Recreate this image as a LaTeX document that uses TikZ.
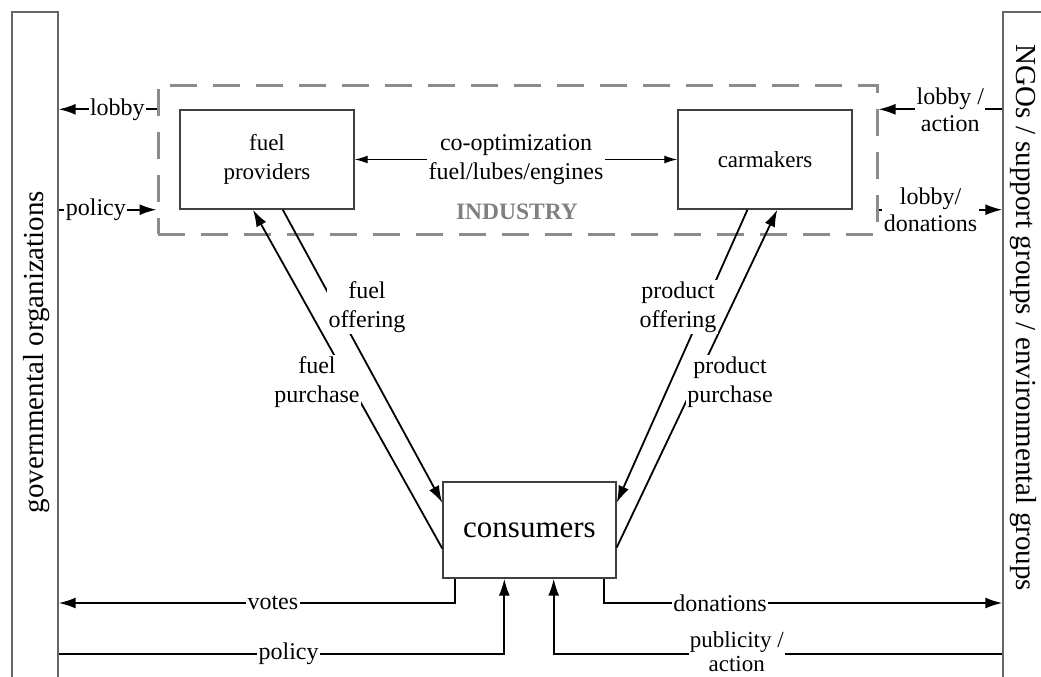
\documentclass[tikz,border=0pt]{standalone}
\usepackage{fontspec}
\setmainfont{Liberation Serif}
\usetikzlibrary{arrows.meta,calc}
\begin{document}
\begin{tikzpicture}[x=1pt,y=-1pt,
  every node/.style={text=black},
  box/.style={draw=black!75, line width=1.4pt, minimum width=174pt, minimum height=99pt, inner sep=0pt, align=center, font=\fontsize{23}{28.5}\selectfont},
  bar/.style={draw=black!60, line width=1.4pt, inner sep=0pt},
  arr/.style={line width=1.8pt, -{Latex[length=17pt,width=11pt]}},
  dbl/.style={line width=1.3pt, {Latex[length=13pt,width=8pt]}-{Latex[length=13pt,width=8pt]}},
  lbl/.style={fill=white, inner sep=1.5pt, align=center, font=\fontsize{24}{29}\selectfont},
  barlbl/.style={font=\fontsize{29}{34}\selectfont, inner sep=0pt},
]
\useasboundingbox (0,0) rectangle (1041,677);
\clip (0,0) rectangle (1041,677);
\fill[white] (0,0) rectangle (1041,677);

% side bars
\node[bar, minimum width=46pt, minimum height=700pt] (gov) at (35,362) {};
\node[bar, minimum width=67pt, minimum height=700pt] (ngo) at (1036.5,362) {};
\node[barlbl, rotate=90] (govt) at (37,352) {governmental organizations};
\node[barlbl, rotate=-90] (ngot) at (1023,318) {NGOs / support groups / environmental groups};

% industry box
\node[draw=black!45, line width=3pt, dash pattern=on 27pt off 16pt, minimum width=719pt, minimum height=149pt, inner sep=0pt] (ind) at (517.5,159.5) {};
\node[font=\fontsize{23.5}{28}\selectfont\bfseries, text=black!50] (indt) at (517,212) {INDUSTRY};

% boxes
\node[box] (fp) at (267,159.5) {fuel\\providers};
\node[box] (cm) at (765,159.5) {carmakers};
\node[box, minimum width=173pt, minimum height=96pt, font=\fontsize{31}{36}\selectfont] (cons) at (529.5,530) {consumers};

% rows for bottom connectors
\coordinate (rowA) at (0,603);
\coordinate (rowB) at (0,654);

% co-optimization
\draw[dbl] (fp.east) -- (cm.west) node[lbl, midway] (coopt) {co-optimization\\fuel/lubes/engines};

% left side
\draw[arr] (ind.west |- fp.north) -- (gov.east |- fp.north) node[lbl, pos=0.4] (lobbyl) {lobby};
\draw[arr] (gov.east |- fp.south) -- (ind.west |- fp.south) node[lbl, pos=0.38] (policyl) {policy};

% right side
\draw[arr] (ngo.west |- fp.north) -- (ind.east |- fp.north) node[lbl, pos=0.42, font=\fontsize{24}{27}\selectfont] (lobbyr) {lobby /\\action};
\draw[arr] (ind.east |- fp.south) -- (ngo.west |- fp.south) node[lbl, pos=0.42, font=\fontsize{24}{27}\selectfont] (donr) {lobby/\\donations};

% diagonals
\draw[arr] ($(cons.south west)!0.31!(cons.north west)$) -- ($(fp.south west)!0.42!(fp.south east)$);
\draw[arr] ($(fp.south west)!0.59!(fp.south east)$) -- ($(cons.north west)!0.22!(cons.south west)$);
\draw[arr] ($(cm.south west)!0.40!(cm.south east)$) -- ($(cons.north east)!0.22!(cons.south east)$);
\draw[arr] ($(cons.south east)!0.32!(cons.north east)$) -- ($(cm.south west)!0.57!(cm.south east)$);
\node[lbl] (fo) at (367,307) {fuel\\offering};
\node[lbl] (fpu) at (317,382) {fuel\\purchase};
\node[lbl] (po) at (678,307) {product\\offering};
\node[lbl] (ppu) at (730,382) {product\\purchase};

% bottom
\draw[arr] ($(cons.south west)+(13,0)$) |- (gov.east |- rowA) node[lbl, pos=0.73] (votes) {votes};
\draw[arr] (gov.east |- rowB) -| ($(cons.south west)+(62,0)$) node[lbl, pos=0.258] (policyb) {policy};
\draw[arr] ($(cons.south east)+(-13,0)$) |- (ngo.west |- rowA) node[lbl, pos=0.646] (dons) {donations};
\draw[arr] (ngo.west |- rowB) -| ($(cons.south east)+(-63,0)$) node[lbl, pos=0.296, font=\fontsize{23}{24}\selectfont, inner sep=1pt, yshift=2pt] (pub) {publicity /\\action};
\end{tikzpicture}
\end{document}
